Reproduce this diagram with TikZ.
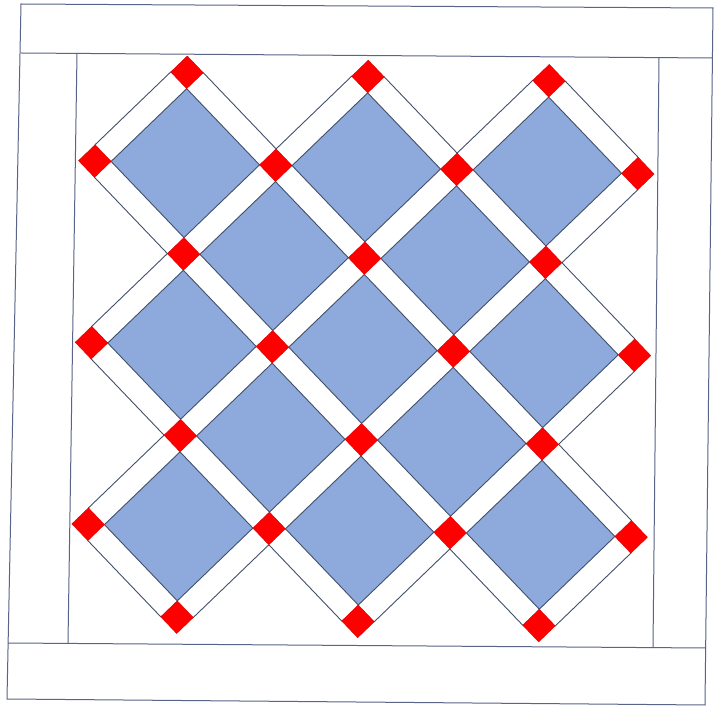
\documentclass[tikz,border=0pt]{standalone}
\begin{document}
\begin{tikzpicture}[x=1pt,y=-1pt]
\definecolor{qblue}{RGB}{142,169,219}
\definecolor{qline}{RGB}{66,80,106}
\definecolor{fline}{RGB}{88,100,136}
\definecolor{qred}{RGB}{255,0,0}
\tikzset{
  frameline/.style={draw=fline, line width=1pt},
  sashline/.style={draw=qline, line width=0.9pt},
  bluepatch/.style={draw=qline, line width=0.9pt, fill=qblue},
  redpatch/.style={draw=red!85!black, line width=0.4pt, fill=qred}
}
\useasboundingbox (0,0) rectangle (724,708);
\fill[white] (0,0) rectangle (724,708);
% border frame
\draw[frameline] (21,4) -- (713,8) -- (705,705) -- (7,699) -- cycle;
\draw[frameline] (21,53) -- (712,58);
\draw[frameline] (8,643) -- (706,648);
\draw[frameline] (77,53) -- (68,643);
\draw[frameline] (659,58) -- (653,648);
% quilt centre
\begin{scope}[shift={(96.5pt,-70.25pt)}, x={(90.5pt,-2.1pt)}, y={(-1.67pt,-90.8pt)}]
\def\h{0.18}
\def\k{0.82}
\draw[sashline, fill=white] ({0},{1-\h}) -- ({1-\h},0) -- ({1+\h},0) -- (2,{1-\h}) -- ({3-\h},0) -- ({3+\h},0) -- (4,{1-\h}) -- ({5-\h},0) -- ({5+\h},0) -- (6,{1-\h}) -- (6,{1+\h}) -- ({5+\h},2) -- (6,{3-\h}) -- (6,{3+\h}) -- ({5+\h},4) -- (6,{5-\h}) -- (6,{5+\h}) -- ({5+\h},6) -- ({5-\h},6) -- (4,{5+\h}) -- ({3+\h},6) -- ({3-\h},6) -- (2,{5+\h}) -- ({1+\h},6) -- ({1-\h},6) -- (0,{5+\h}) -- (0,{5-\h}) -- ({1-\h},4) -- (0,{3+\h}) -- (0,{3-\h}) -- ({1-\h},2) -- (0,{1+\h}) -- cycle;
\foreach \u/\v in {1/1,3/1,5/1,2/2,4/2,1/3,3/3,5/3,2/4,4/4,1/5,3/5,5/5}
  \draw[bluepatch] ({\u-\k},\v) -- (\u,{\v-\k}) -- ({\u+\k},\v) -- (\u,{\v+\k}) -- cycle;
\foreach \u/\v in {1/0,3/0,5/0,0/1,2/1,4/1,6/1,1/2,3/2,5/2,0/3,2/3,4/3,6/3,1/4,3/4,5/4,0/5,2/5,4/5,6/5,1/6,3/6,5/6}
  \draw[redpatch] ({\u-\h},\v) -- (\u,{\v-\h}) -- ({\u+\h},\v) -- (\u,{\v+\h}) -- cycle;
\end{scope}
\end{tikzpicture}
\end{document}
